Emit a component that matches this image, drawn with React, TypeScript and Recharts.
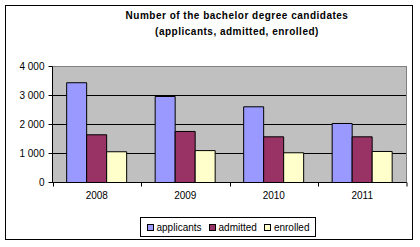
import { BarChart, Bar, XAxis, YAxis, CartesianGrid, ReferenceArea } from "recharts";

const years = ["2008", "2009", "2010", "2011"];
const applicants = [3440, 2965, 2610, 2035];
const admitted = [1645, 1760, 1575, 1575];
const enrolled = [1060, 1100, 1025, 1070];
const yTicks = [0, 1000, 2000, 3000, 4000];

const SERIES = [
    { key: "applicants", name: "applicants", color: "#9999FF" },
    { key: "admitted", name: "admitted", color: "#993366" },
    { key: "enrolled", name: "enrolled", color: "#FFFFCC" },
];

const data = years.map((year, i) => ({
    year,
    applicants: applicants[i],
    admitted: admitted[i],
    enrolled: enrolled[i],
}));

const FONT = '"Liberation Sans", Arial, sans-serif';
const W = 420;
const H = 247;
// half-pixel offsets keep the 1px black lines crisp
const M = { top: 66.5, right: 13.5, bottom: 44.5, left: 0.5 };
const Y_W = 52;
const STEP = (W - M.left - M.right - Y_W) / years.length;

const fmt = (v: number) => (v >= 1000 ? `${Math.floor(v / 1000)} ${String(v % 1000).padStart(3, "0")}` : String(v));

// category label plus tick marks on the category boundaries, Excel style
function YearTick(props: any) {
    const { x, y, payload, index } = props;
    const axisY = y - 9;
    const left = Math.round(x - STEP / 2) + 0.5;
    return (
        <g>
            <line x1={left} x2={left} y1={axisY} y2={axisY + 4} stroke="#000" />
            {index === years.length - 1 && (
                <line x1={left + STEP} x2={left + STEP} y1={axisY} y2={axisY + 4} stroke="#000" />
            )}
            <text x={x} y={y} dy="0.71em" textAnchor="middle" fontSize={10} fill="#000" fontFamily={FONT}>
                {payload.value}
            </text>
        </g>
    );
}

export default function App() {
    return (
        <div style={{ position: "absolute", left: 0, top: 0, width: W, height: H, background: "#fff", fontFamily: FONT }}>
            <div
                style={{
                    position: "absolute",
                    left: 5,
                    top: 5,
                    width: 408,
                    height: 235,
                    border: "1px solid #000",
                    boxSizing: "border-box",
                }}
            />
            <div
                style={{
                    position: "absolute",
                    left: 0,
                    width: 474,
                    top: 8,
                    textAlign: "center",
                    fontSize: 10,
                    fontWeight: "bold",
                    letterSpacing: 0.5,
                    lineHeight: "16px",
                    color: "#000",
                }}
            >
                Number of the bachelor degree candidates
                <br />
                (applicants, admitted, enrolled)
            </div>
            <BarChart
                width={W}
                height={H}
                data={data}
                margin={M}
                barCategoryGap="16%"
                barGap={0}
                style={{ position: "absolute", left: 0, top: 0 }}
            >
                <CartesianGrid vertical={false} stroke="#000" fill="#C0C0C0" fillOpacity={1} />
                <ReferenceArea y1={0} y2={4000} stroke="#808080" fill="none" ifOverflow="visible" />
                <XAxis
                    dataKey="year"
                    stroke="#000"
                    tickLine={false}
                    tickSize={4}
                    tickMargin={5}
                    tick={<YearTick />}
                    height={20}
                />
                <YAxis
                    width={Y_W}
                    domain={[0, 4000]}
                    ticks={yTicks}
                    tickFormatter={fmt}
                    stroke="#000"
                    tickSize={4}
                    tickMargin={4}
                    tick={{ fontSize: 10, fill: "#000", fontFamily: FONT }}
                    interval={0}
                />
                {SERIES.map((s) => (
                    <Bar key={s.key} dataKey={s.key} name={s.name} fill={s.color} stroke="#000" strokeWidth={1} isAnimationActive={false} />
                ))}
            </BarChart>
            <div
                style={{
                    position: "absolute",
                    left: 140,
                    top: 217,
                    width: 176,
                    height: 20,
                    border: "1px solid #000",
                    boxSizing: "border-box",
                    background: "#fff",
                    display: "flex",
                    alignItems: "center",
                    justifyContent: "center",
                    gap: 7,
                    fontSize: 10,
                    color: "#000",
                }}
            >
                {SERIES.map((s) => (
                    <span key={s.key} style={{ display: "flex", alignItems: "center", gap: 3 }}>
                        <span
                            style={{
                                display: "inline-block",
                                width: 7,
                                height: 7,
                                background: s.color,
                                border: "1px solid #000",
                                boxSizing: "border-box",
                            }}
                        />
                        {s.name}
                    </span>
                ))}
            </div>
        </div>
    );
}
